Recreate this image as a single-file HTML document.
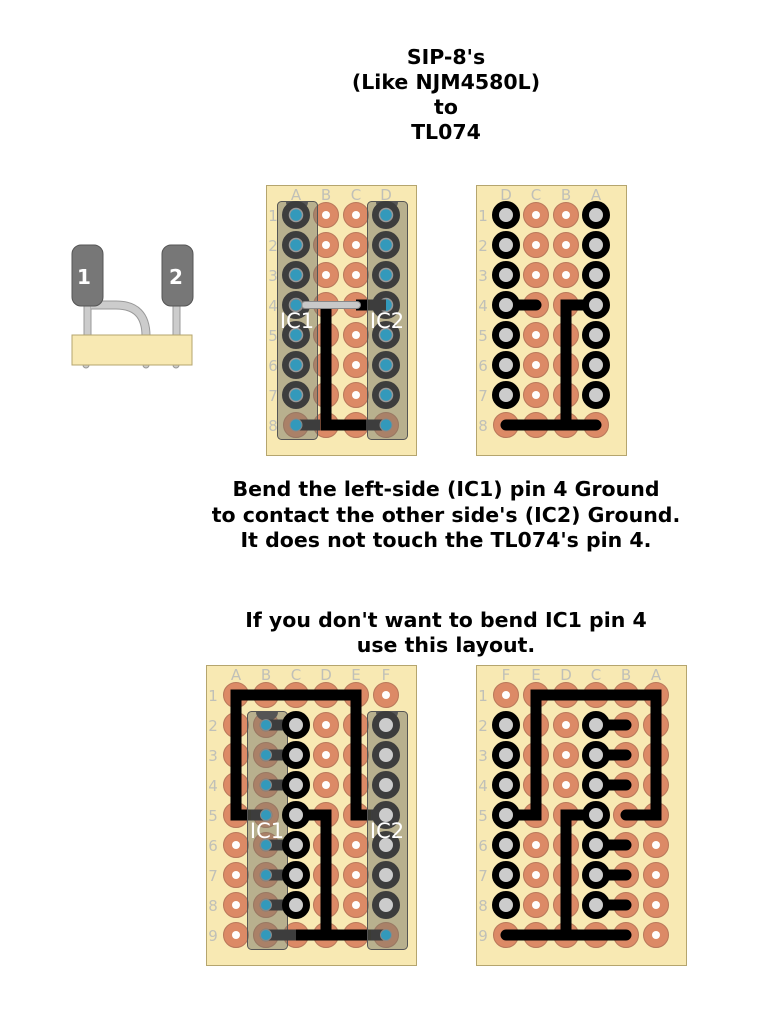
<!DOCTYPE html>
<html><head><meta charset="utf-8">
<style>
html,body{margin:0;padding:0;background:#fff;}
svg{display:block}
.t{font-family:"DejaVu Sans","Liberation Sans",sans-serif;font-weight:bold;font-size:20.5px;fill:#000;text-anchor:middle}
.l{font-family:"DejaVu Sans","Liberation Sans",sans-serif;font-size:15px;fill:#c0c0b8;text-anchor:middle}
.ic{font-family:"DejaVu Sans","Liberation Sans",sans-serif;font-size:21px;fill:#fff;text-anchor:middle}
</style></head><body>
<svg width="770" height="1017" viewBox="0 0 770 1017" xmlns="http://www.w3.org/2000/svg">
<defs>
 <g id="p"><circle r="12.5" fill="#dc8a66" stroke="#b8775a" stroke-width="1"/><circle r="4" fill="#fff"/></g>
 <g id="pn"><circle r="12.5" fill="#dc8a66" stroke="#b8775a" stroke-width="1"/></g>
 <g id="r"><circle r="10.5" fill="#cccccc" stroke="#000" stroke-width="7"/></g>
 <g id="d"><circle r="10.5" fill="#3d3d3d" stroke="#3d3d3d" stroke-width="7"/><circle r="6.5" fill="#3399bb" stroke="#999" stroke-width="1.5"/></g>
 <g id="dg"><circle r="10.5" fill="#cccccc" stroke="#3d3d3d" stroke-width="7"/></g>
 <g id="b"><circle r="12.5" fill="#dc8a66" stroke="#b8775a" stroke-width="1"/><circle r="6" fill="#3399bb" stroke="#888" stroke-width="1"/></g>
</defs>

<text class="t" x="446" y="64">SIP-8's</text>
<text class="t" x="446" y="89">(Like NJM4580L)</text>
<text class="t" x="446" y="114">to</text>
<text class="t" x="446" y="139">TL074</text>

<!-- side drawing -->
<rect x="84" y="300" width="7" height="36" fill="#ccc" stroke="#999"/>
<rect x="173" y="300" width="7" height="36" fill="#ccc" stroke="#999"/>
<path d="M91 305 H116 Q146 305 146 336" fill="none" stroke="#999" stroke-width="9"/>
<path d="M91 305 H116 Q146 305 146 336" fill="none" stroke="#ccc" stroke-width="7"/>
<rect x="72" y="245" width="31" height="61" rx="9" fill="#777" stroke="#555"/>
<rect x="162" y="245" width="31" height="61" rx="9" fill="#777" stroke="#555"/>
<text x="84" y="284" font-family="DejaVu Sans,sans-serif" font-weight="bold" font-size="20" fill="#fff" text-anchor="middle">1</text>
<text x="176" y="284" font-family="DejaVu Sans,sans-serif" font-weight="bold" font-size="20" fill="#fff" text-anchor="middle">2</text>
<circle cx="86" cy="365" r="3" fill="#ccc" stroke="#999"/><circle cx="146" cy="365" r="3" fill="#ccc" stroke="#999"/><circle cx="176" cy="365" r="3" fill="#ccc" stroke="#999"/>
<rect x="72" y="335" width="120" height="30" fill="#f8e9b3" stroke="#b5a56e"/>

<!-- ===== Board 1 ===== -->
<rect x="266.5" y="185.5" width="150" height="270" fill="#f8e9b3" stroke="#b5a56e"/>
<g class="l"><text x="296" y="200">A</text><text x="326" y="200">B</text><text x="356" y="200">C</text><text x="386" y="200">D</text>
<text x="273" y="221">1</text><text x="273" y="251">2</text><text x="273" y="281">3</text><text x="273" y="311">4</text><text x="273" y="341">5</text><text x="273" y="371">6</text><text x="273" y="401">7</text><text x="273" y="431">8</text></g>
<use href="#p" x="326" y="215"/><use href="#p" x="356" y="215"/>
<use href="#p" x="326" y="245"/><use href="#p" x="356" y="245"/>
<use href="#p" x="326" y="275"/><use href="#p" x="356" y="275"/>
<use href="#pn" x="326" y="305"/><use href="#pn" x="356" y="305"/>
<use href="#pn" x="326" y="335"/><use href="#p" x="356" y="335"/>
<use href="#pn" x="326" y="365"/><use href="#p" x="356" y="365"/>
<use href="#pn" x="326" y="395"/><use href="#p" x="356" y="395"/>
<use href="#pn" x="326" y="425"/><use href="#pn" x="356" y="425"/>
<use href="#pn" x="296" y="425"/><use href="#pn" x="386" y="425"/>
<path d="M326 305 V425 H366" fill="none" stroke="#000" stroke-width="11" stroke-linejoin="miter"/>
<path d="M356 305 H380" stroke="#000" stroke-width="11"/>
<rect x="277.5" y="201.5" width="40" height="238" rx="4" fill="rgba(120,120,105,0.5)" stroke="#555"/>
<rect x="367.5" y="201.5" width="40" height="238" rx="4" fill="rgba(120,120,105,0.5)" stroke="#555"/>
<path d="M286 202 A11 9 0 0 0 308 202Z" fill="#555"/><path d="M376 202 A11 9 0 0 0 398 202Z" fill="#555"/>
<use href="#d" x="296" y="215"/><use href="#d" x="296" y="245"/><use href="#d" x="296" y="275"/><use href="#d" x="296" y="305"/><use href="#d" x="296" y="335"/><use href="#d" x="296" y="365"/><use href="#d" x="296" y="395"/>
<use href="#d" x="386" y="215"/><use href="#d" x="386" y="245"/><use href="#d" x="386" y="275"/><use href="#d" x="386" y="305"/><use href="#d" x="386" y="335"/><use href="#d" x="386" y="365"/><use href="#d" x="386" y="395"/>
<path d="M296 425 H320 M366 425 H386 M370 305 H386" stroke="#3d3d3d" stroke-width="11"/>
<circle cx="296" cy="425" r="6" fill="#3399bb" stroke="#888"/><circle cx="386" cy="425" r="6" fill="#3399bb" stroke="#888"/>
<path d="M305 305 H357" stroke="#888" stroke-width="8" stroke-linecap="round"/>
<path d="M305 305 H357" stroke="#c8c8c8" stroke-width="6" stroke-linecap="round"/>
<circle cx="296" cy="305" r="6" fill="#3399bb" stroke="#888"/>
<text class="ic" x="297" y="328">IC1</text><text class="ic" x="387" y="328">IC2</text>

<!-- ===== Board 2 ===== -->
<rect x="476.5" y="185.5" width="150" height="270" fill="#f8e9b3" stroke="#b5a56e"/>
<g class="l"><text x="506" y="200">D</text><text x="536" y="200">C</text><text x="566" y="200">B</text><text x="596" y="200">A</text>
<text x="483" y="221">1</text><text x="483" y="251">2</text><text x="483" y="281">3</text><text x="483" y="311">4</text><text x="483" y="341">5</text><text x="483" y="371">6</text><text x="483" y="401">7</text><text x="483" y="431">8</text></g>
<use href="#p" x="536" y="215"/><use href="#p" x="566" y="215"/>
<use href="#p" x="536" y="245"/><use href="#p" x="566" y="245"/>
<use href="#p" x="536" y="275"/><use href="#p" x="566" y="275"/>
<use href="#pn" x="536" y="305"/><use href="#pn" x="566" y="305"/>
<use href="#p" x="536" y="335"/><use href="#pn" x="566" y="335"/>
<use href="#p" x="536" y="365"/><use href="#pn" x="566" y="365"/>
<use href="#p" x="536" y="395"/><use href="#pn" x="566" y="395"/>
<use href="#pn" x="506" y="425"/><use href="#pn" x="536" y="425"/><use href="#pn" x="566" y="425"/><use href="#pn" x="596" y="425"/>
<path d="M506 305 H536" stroke="#000" stroke-width="11" stroke-linecap="round"/>
<path d="M596 305 H566 V425" fill="none" stroke="#000" stroke-width="11"/>
<path d="M506 425 H596" stroke="#000" stroke-width="11" stroke-linecap="round"/>
<use href="#r" x="506" y="215"/><use href="#r" x="506" y="245"/><use href="#r" x="506" y="275"/><use href="#r" x="506" y="305"/><use href="#r" x="506" y="335"/><use href="#r" x="506" y="365"/><use href="#r" x="506" y="395"/>
<use href="#r" x="596" y="215"/><use href="#r" x="596" y="245"/><use href="#r" x="596" y="275"/><use href="#r" x="596" y="305"/><use href="#r" x="596" y="335"/><use href="#r" x="596" y="365"/><use href="#r" x="596" y="395"/>

<text class="t" x="446" y="496">Bend the left-side (IC1) pin 4 Ground</text>
<text class="t" x="446" y="522">to contact the other side's (IC2) Ground.</text>
<text class="t" x="446" y="547">It does not touch the TL074's pin 4.</text>
<text class="t" x="446" y="627">If you don't want to bend IC1 pin 4</text>
<text class="t" x="446" y="652">use this layout.</text>

<!-- ===== Board 3 ===== -->
<rect x="206.5" y="665.5" width="210" height="300" fill="#f8e9b3" stroke="#b5a56e"/>
<g class="l"><text x="236" y="680">A</text><text x="266" y="680">B</text><text x="296" y="680">C</text><text x="326" y="680">D</text><text x="356" y="680">E</text><text x="386" y="680">F</text>
<text x="213" y="701">1</text><text x="213" y="731">2</text><text x="213" y="761">3</text><text x="213" y="791">4</text><text x="213" y="821">5</text><text x="213" y="851">6</text><text x="213" y="881">7</text><text x="213" y="911">8</text><text x="213" y="941">9</text></g>
<use href="#pn" x="236" y="695"/><use href="#pn" x="266" y="695"/><use href="#pn" x="296" y="695"/><use href="#pn" x="326" y="695"/><use href="#pn" x="356" y="695"/><use href="#p" x="386" y="695"/>
<use href="#pn" x="236" y="725"/><use href="#pn" x="236" y="755"/><use href="#pn" x="236" y="785"/><use href="#pn" x="236" y="815"/><use href="#p" x="236" y="845"/><use href="#p" x="236" y="875"/><use href="#p" x="236" y="905"/><use href="#p" x="236" y="935"/>
<use href="#b" x="266" y="725"/><use href="#b" x="266" y="755"/><use href="#b" x="266" y="785"/><use href="#b" x="266" y="815"/><use href="#b" x="266" y="845"/><use href="#b" x="266" y="875"/><use href="#b" x="266" y="905"/><use href="#b" x="266" y="935"/>
<use href="#pn" x="296" y="935"/>
<use href="#p" x="326" y="725"/><use href="#p" x="326" y="755"/><use href="#p" x="326" y="785"/><use href="#pn" x="326" y="815"/><use href="#pn" x="326" y="845"/><use href="#pn" x="326" y="875"/><use href="#pn" x="326" y="905"/><use href="#pn" x="326" y="935"/>
<use href="#pn" x="356" y="725"/><use href="#pn" x="356" y="755"/><use href="#pn" x="356" y="785"/><use href="#pn" x="356" y="815"/><use href="#p" x="356" y="845"/><use href="#p" x="356" y="875"/><use href="#p" x="356" y="905"/><use href="#pn" x="356" y="935"/>
<use href="#pn" x="386" y="935"/>
<path d="M251 815 H236 V695 H356 V815 H371" fill="none" stroke="#000" stroke-width="11"/>
<path d="M296 815 H326 V935 M296 935 H371" fill="none" stroke="#000" stroke-width="11"/>
<rect x="247.5" y="711.5" width="40" height="238" rx="4" fill="rgba(120,120,105,0.5)" stroke="#555"/>
<rect x="367.5" y="711.5" width="40" height="238" rx="4" fill="rgba(120,120,105,0.5)" stroke="#555"/>
<path d="M256 712 A11 9 0 0 0 278 712Z" fill="#555"/><path d="M376 712 A11 9 0 0 0 398 712Z" fill="#555"/>
<path d="M266 725 H290 M266 755 H290 M266 785 H290 M266 845 H290 M266 875 H290 M266 905 H290 M266 935 H296 M251 815 H266 M371 815 H386 M371 935 H386" stroke="#3d3d3d" stroke-width="11"/>
<g fill="#3399bb" stroke="#888"><circle cx="266" cy="725" r="5.5"/><circle cx="266" cy="755" r="5.5"/><circle cx="266" cy="785" r="5.5"/><circle cx="266" cy="815" r="5.5"/><circle cx="266" cy="845" r="5.5"/><circle cx="266" cy="875" r="5.5"/><circle cx="266" cy="905" r="5.5"/><circle cx="266" cy="935" r="5.5"/><circle cx="386" cy="935" r="5.5"/></g>
<use href="#r" x="296" y="725"/><use href="#r" x="296" y="755"/><use href="#r" x="296" y="785"/><use href="#r" x="296" y="815"/><use href="#r" x="296" y="845"/><use href="#r" x="296" y="875"/><use href="#r" x="296" y="905"/>
<use href="#dg" x="386" y="725"/><use href="#dg" x="386" y="755"/><use href="#dg" x="386" y="785"/><use href="#dg" x="386" y="815"/><use href="#dg" x="386" y="845"/><use href="#dg" x="386" y="875"/><use href="#dg" x="386" y="905"/>
<text class="ic" x="267" y="838">IC1</text><text class="ic" x="387" y="838">IC2</text>

<!-- ===== Board 4 ===== -->
<rect x="476.5" y="665.5" width="210" height="300" fill="#f8e9b3" stroke="#b5a56e"/>
<g class="l"><text x="506" y="680">F</text><text x="536" y="680">E</text><text x="566" y="680">D</text><text x="596" y="680">C</text><text x="626" y="680">B</text><text x="656" y="680">A</text>
<text x="483" y="701">1</text><text x="483" y="731">2</text><text x="483" y="761">3</text><text x="483" y="791">4</text><text x="483" y="821">5</text><text x="483" y="851">6</text><text x="483" y="881">7</text><text x="483" y="911">8</text><text x="483" y="941">9</text></g>
<use href="#p" x="506" y="695"/><use href="#pn" x="536" y="695"/><use href="#pn" x="566" y="695"/><use href="#pn" x="596" y="695"/><use href="#pn" x="626" y="695"/><use href="#pn" x="656" y="695"/>
<use href="#pn" x="536" y="725"/><use href="#pn" x="536" y="755"/><use href="#pn" x="536" y="785"/><use href="#pn" x="536" y="815"/><use href="#p" x="536" y="845"/><use href="#p" x="536" y="875"/><use href="#p" x="536" y="905"/><use href="#pn" x="536" y="935"/>
<use href="#p" x="566" y="725"/><use href="#p" x="566" y="755"/><use href="#p" x="566" y="785"/><use href="#pn" x="566" y="815"/><use href="#pn" x="566" y="845"/><use href="#pn" x="566" y="875"/><use href="#pn" x="566" y="905"/><use href="#pn" x="566" y="935"/>
<use href="#pn" x="596" y="935"/><use href="#pn" x="506" y="935"/>
<use href="#pn" x="626" y="725"/><use href="#pn" x="626" y="755"/><use href="#pn" x="626" y="785"/><use href="#pn" x="626" y="815"/><use href="#pn" x="626" y="845"/><use href="#pn" x="626" y="875"/><use href="#pn" x="626" y="905"/><use href="#pn" x="626" y="935"/>
<use href="#pn" x="656" y="725"/><use href="#pn" x="656" y="755"/><use href="#pn" x="656" y="785"/><use href="#pn" x="656" y="815"/><use href="#p" x="656" y="845"/><use href="#p" x="656" y="875"/><use href="#p" x="656" y="905"/><use href="#p" x="656" y="935"/>
<path d="M506 815 H536 V695 H656 V815 H626" fill="none" stroke="#000" stroke-width="11" stroke-linecap="round"/>
<path d="M596 815 H566 V935" fill="none" stroke="#000" stroke-width="11"/>
<path d="M506 935 H626" stroke="#000" stroke-width="11" stroke-linecap="round"/>
<path d="M596 725 H626 M596 755 H626 M596 785 H626 M596 845 H626 M596 875 H626 M596 905 H626" stroke="#000" stroke-width="11" stroke-linecap="round"/>
<use href="#r" x="506" y="725"/><use href="#r" x="506" y="755"/><use href="#r" x="506" y="785"/><use href="#r" x="506" y="815"/><use href="#r" x="506" y="845"/><use href="#r" x="506" y="875"/><use href="#r" x="506" y="905"/>
<use href="#r" x="596" y="725"/><use href="#r" x="596" y="755"/><use href="#r" x="596" y="785"/><use href="#r" x="596" y="815"/><use href="#r" x="596" y="845"/><use href="#r" x="596" y="875"/><use href="#r" x="596" y="905"/>
</svg>
</body></html>
